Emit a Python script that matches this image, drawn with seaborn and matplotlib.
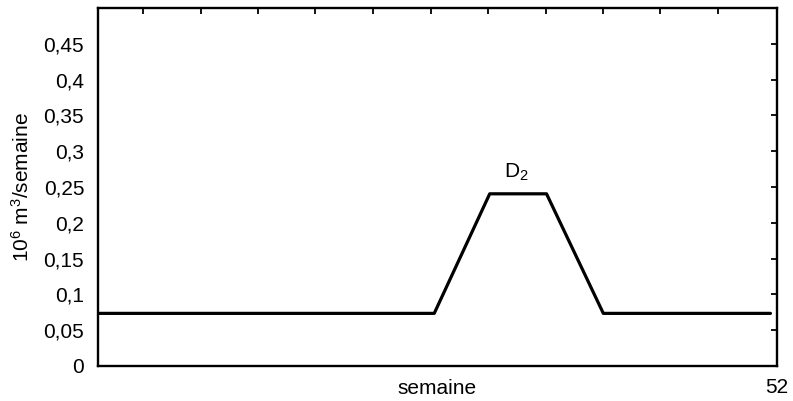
import pandas as pd
import matplotlib
matplotlib.use("Agg")
import matplotlib.pyplot as plt
import seaborn as sns

# weekly demand D2 (10^6 m3 / week)
weeks = [0, 25.75, 30.0, 34.35, 38.7, 51.5]
demand = [0.0735, 0.0735, 0.2405, 0.2405, 0.0735, 0.0735]

y_ticks = [0, 0.05, 0.1, 0.15, 0.2, 0.25, 0.3, 0.35, 0.4, 0.45]
y_tick_labels = ["0", "0,05", "0,1", "0,15", "0,2", "0,25", "0,3", "0,35", "0,4", "0,45"]
x_minor_ticks = [3.45, 7.9, 12.25, 16.6, 21.05, 25.5, 29.9, 34.3, 38.7, 43.05, 47.45]

sns.set_style("white")
plt.rcParams["font.family"] = ["Liberation Sans", "DejaVu Sans"]
plt.rcParams["mathtext.default"] = "regular"
plt.rcParams["text.color"] = "black"
plt.rcParams["axes.labelcolor"] = "black"

df = pd.DataFrame({"semaine": weeks, "debit": demand})

fig = plt.figure(figsize=(7.93, 4.01), dpi=100)
ax = fig.add_axes([0.1236, 0.0873, 0.8562, 0.8927])

sns.lineplot(x="semaine", y="debit", data=df, color="black", linewidth=2.3, ax=ax)

ax.set_xlim(0, 52)
ax.set_ylim(0, 0.5)

ax.set_yticks(y_ticks)
ax.set_yticklabels(y_tick_labels)
ax.set_xticks([52])
ax.set_xticklabels(["52"])
ax.set_xticks(x_minor_ticks, minor=True)

ax.tick_params(axis="both", which="both", direction="in", top=True, right=True,
               length=4.5, width=1.3, color="black", labelsize=15, labelcolor="black")
ax.tick_params(axis="y", pad=10)
ax.tick_params(axis="x", pad=9)

for s in ax.spines.values():
    s.set_color("black")
    s.set_linewidth(1.7)

ax.set_xlabel("semaine", fontsize=15)
ax.xaxis.set_label_coords(0.5, -0.035)
ax.set_ylabel("10$^6$ m$^3$/semaine", fontsize=15)
ax.yaxis.set_label_coords(-0.096, 0.5)

ax.text(32.0, 0.255, "D$_2$", fontsize=15, ha="center", va="bottom")

fig.savefig("out.png", dpi=100)
